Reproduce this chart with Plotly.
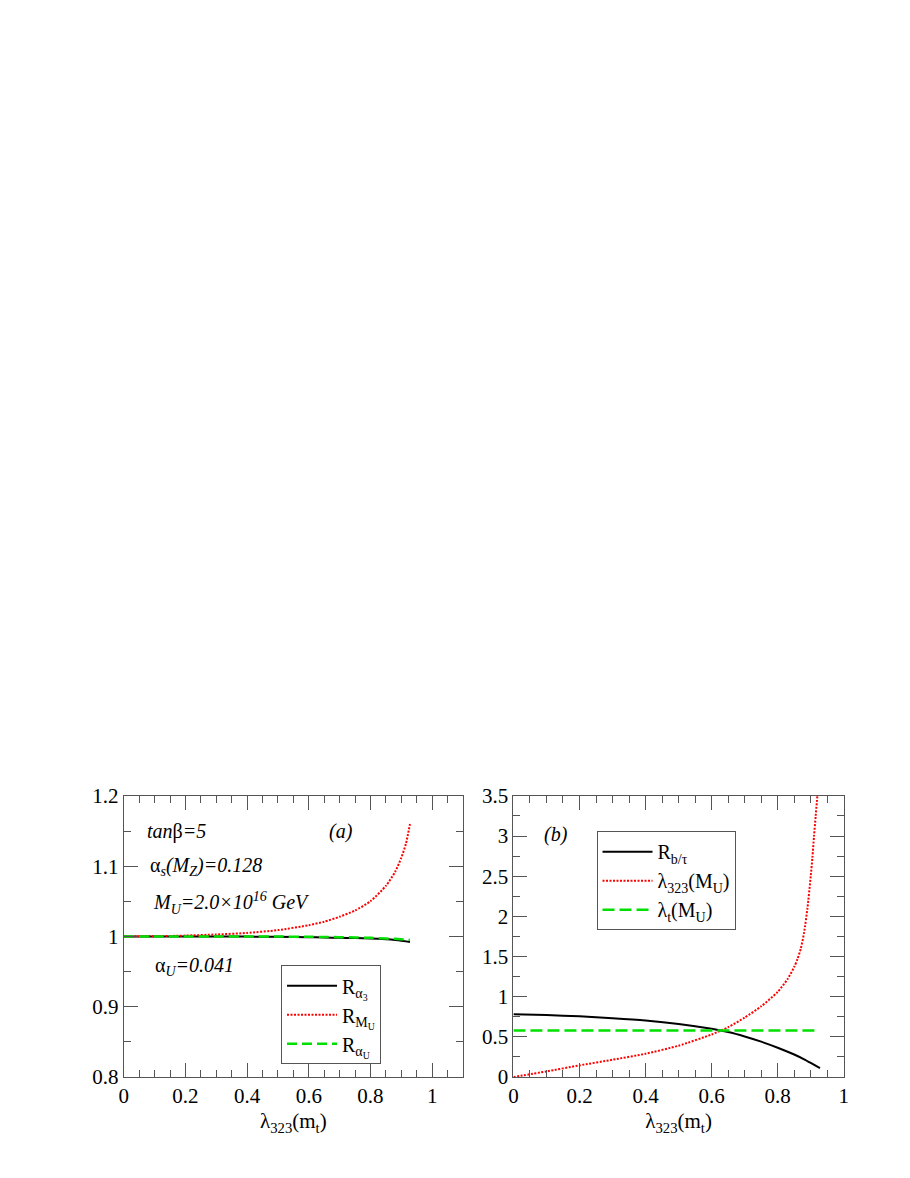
import plotly.graph_objects as go

FONT = "Liberation Serif"
AXC = "#555555"

# ---------------- panel (a) data ----------------
lam_a = [0.0, 0.1, 0.2, 0.3, 0.4, 0.5, 0.6, 0.65, 0.7, 0.75, 0.8, 0.85, 0.88, 0.9, 0.915, 0.928]
r_alpha3 = [1.0, 1.0, 1.0, 1.0, 0.9998, 0.9995, 0.999, 0.9986, 0.998, 0.9976, 0.997, 0.996, 0.995, 0.994, 0.993, 0.992]
r_mu = [1.0, 1.0003, 1.0012, 1.0028, 1.005, 1.009, 1.016, 1.021, 1.028, 1.037, 1.050, 1.072, 1.092, 1.112, 1.132, 1.160]
r_alphau = [1.0, 1.0, 1.0, 1.0, 1.0, 0.9998, 0.9995, 0.9992, 0.999, 0.9986, 0.998, 0.997, 0.9966, 0.996, 0.9955, 0.995]

# ---------------- panel (b) data ----------------
lam_b1 = [0.0, 0.1, 0.2, 0.3, 0.4, 0.5, 0.6, 0.65, 0.7, 0.75, 0.8, 0.85, 0.88, 0.9, 0.928]
r_btau = [0.78, 0.772, 0.755, 0.732, 0.703, 0.66, 0.60, 0.56, 0.505, 0.44, 0.365, 0.28, 0.22, 0.175, 0.11]

lam_b2 = [0.0, 0.1, 0.2, 0.3, 0.4, 0.5, 0.6, 0.65, 0.7, 0.75, 0.8, 0.83, 0.85, 0.86, 0.87, 0.88, 0.89,
          0.9, 0.905, 0.91, 0.915, 0.92]
lam323_mu = [0.0, 0.07, 0.145, 0.215, 0.29, 0.39, 0.53, 0.62, 0.74, 0.88, 1.06, 1.22, 1.37, 1.47, 1.60, 1.80, 2.10,
             2.50, 2.73, 3.0, 3.25, 3.5]

lam_b3 = [0.0, 0.92]
lamt_mu = [0.58, 0.58]

fig = go.Figure()

# panel (a)
fig.add_trace(go.Scatter(x=lam_a, y=r_alpha3, mode="lines", name="R<sub>α<sub>3</sub></sub>",
                         line=dict(color="black", width=2, shape="spline", smoothing=0.6),
                         xaxis="x", yaxis="y", legend="legend"))
fig.add_trace(go.Scatter(x=lam_a, y=r_mu, mode="lines", name="R<sub>M<sub>U</sub></sub>",
                         line=dict(color="red", width=2, dash="2px,1.5px", shape="spline", smoothing=0.6),
                         xaxis="x", yaxis="y", legend="legend"))
fig.add_trace(go.Scatter(x=lam_a, y=r_alphau, mode="lines", name="R<sub>α<sub>U</sub></sub>",
                         line=dict(color="#00e000", width=2.5, dash="10px,5px", shape="spline", smoothing=0.6),
                         xaxis="x", yaxis="y", legend="legend"))

# panel (b)
fig.add_trace(go.Scatter(x=lam_b1, y=r_btau, mode="lines", name="R<sub>b/τ</sub>",
                         line=dict(color="black", width=2, shape="spline", smoothing=0.6),
                         xaxis="x2", yaxis="y2", legend="legend2"))
fig.add_trace(go.Scatter(x=lam_b2, y=lam323_mu, mode="lines", name="λ<sub>323</sub>(M<sub>U</sub>)",
                         line=dict(color="red", width=2, dash="2px,1.5px", shape="spline", smoothing=0.6),
                         xaxis="x2", yaxis="y2", legend="legend2"))
fig.add_trace(go.Scatter(x=lam_b3, y=lamt_mu, mode="lines", name="λ<sub>t</sub>(M<sub>U</sub>)",
                         line=dict(color="#00e000", width=2.5, dash="12px,5px"),
                         xaxis="x2", yaxis="y2", legend="legend2"))

W, H = 910, 1178
ydom = [1 - 1079 / H, 1 - 792 / H]


def axis(rng, dtick, mdtick, domain, anchor, title=None):
    d = dict(range=rng, domain=domain, anchor=anchor, dtick=dtick, tick0=0,
             showline=True, linecolor=AXC, linewidth=1, mirror="ticks",
             ticks="inside", ticklen=14, tickwidth=1, tickcolor=AXC,
             showgrid=False, zeroline=False,
             tickfont=dict(family=FONT, size=21, color="black"),
             minor=dict(ticks="inside", ticklen=7, dtick=mdtick, tick0=0, tickcolor=AXC, tickwidth=1, showgrid=False))
    if title:
        d["title"] = dict(text=title, font=dict(family=FONT, size=21, color="black"), standoff=6)
    return d


xt = "λ<sub>323</sub>(m<sub>t</sub>)"
leg_common = dict(xanchor="left", yanchor="top", bordercolor=AXC, borderwidth=1, bgcolor="white",
                  font=dict(family=FONT, size=20, color="black"), tracegroupgap=0, itemwidth=50)
fig.update_layout(
    width=W, height=H, margin=dict(l=0, r=0, t=0, b=0),
    paper_bgcolor="white", plot_bgcolor="white",
    font=dict(family=FONT, size=20, color="black"),
    xaxis=axis([0, 1.1], 0.2, 0.05, [112 / W, 455 / W], "y", xt),
    yaxis=axis([0.8, 1.2], 0.1, 0.05, ydom, "x"),
    xaxis2=axis([0, 1.0], 0.2, 0.05, [506 / W, 840 / W], "y2", xt),
    yaxis2=axis([0, 3.5], 0.5, 0.25, ydom, "x2"),
    legend=dict(x=271 / W, y=1 - 965 / H, **leg_common),
    legend2=dict(x=590 / W, y=1 - 828 / H, **leg_common),
)

ann_font = dict(family=FONT, size=20, color="black")
anns = [
    dict(x=0.07, y=1.150, xref="x", yref="y", text="<i>tan</i>β<i>=5</i>", xanchor="left"),
    dict(x=0.705, y=1.150, xref="x", yref="y", text="<i>(a)</i>", xanchor="center"),
    dict(x=0.078, y=1.099, xref="x", yref="y", text="α<sub><i>s</i></sub><i>(M<sub>Z</sub>)=0.128</i>", xanchor="left"),
    dict(x=0.087, y=1.048, xref="x", yref="y", text="<i>M<sub>U</sub>=2.0×10<sup>16</sup> GeV</i>", xanchor="left"),
    dict(x=0.096, y=0.957, xref="x", yref="y", text="α<sub><i>U</i></sub><i>=0.041</i>", xanchor="left"),
    dict(x=0.13, y=3.02, xref="x2", yref="y2", text="<i>(b)</i>", xanchor="center"),
]
for a in anns:
    a.update(showarrow=False, font=ann_font, yanchor="middle")
fig.update_layout(annotations=anns)

fig.write_html("out.html")
